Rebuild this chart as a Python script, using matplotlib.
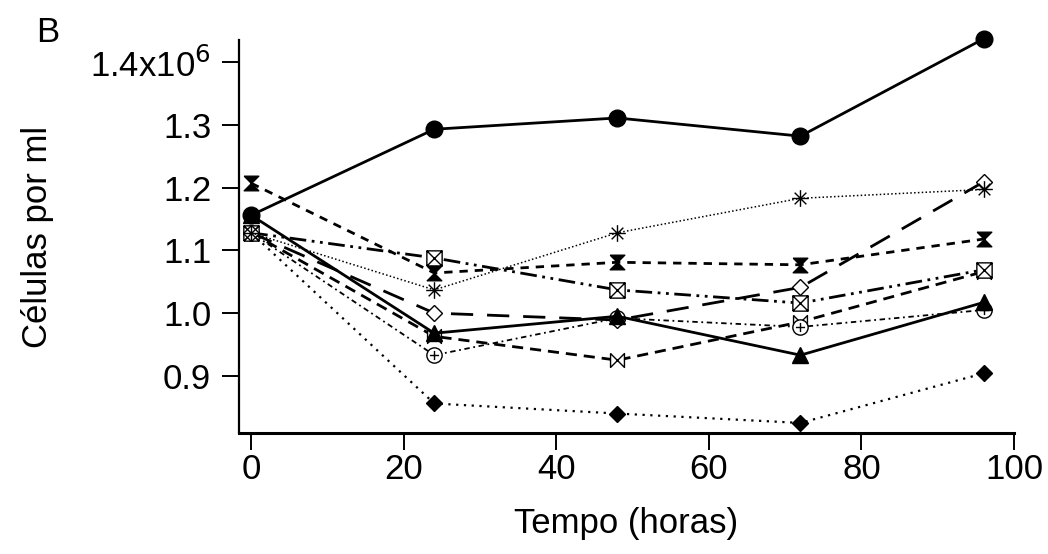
import numpy as np
import matplotlib
matplotlib.use('Agg')
import matplotlib.pyplot as plt
from matplotlib.path import Path

plt.rcParams['font.family'] = ['Liberation Sans', 'DejaVu Sans']

# tempo (horas)
horas = [0, 24, 48, 72, 96]

# células por ml (x10^6)
circulo_cheio = [1.156, 1.293, 1.311, 1.282, 1.437]
triangulo = [1.156, 0.968, 0.995, 0.933, 1.017]
ampulheta = [1.207, 1.064, 1.081, 1.077, 1.118]
asterisco = [1.128, 1.037, 1.128, 1.183, 1.197]
losango_aberto = [1.128, 1.000, 0.989, 1.041, 1.209]
caixa_x = [1.128, 1.088, 1.037, 1.016, 1.069]
circulo_mais = [1.128, 0.933, 0.992, 0.978, 1.005]
gravata = [1.128, 0.963, 0.925, 0.986, 1.066]
losango_cheio = [1.128, 0.856, 0.840, 0.825, 0.904]

yticks = [0.9, 1.0, 1.1, 1.2, 1.3, 1.4]
ytick_labels = ['0.9', '1.0', '1.1', '1.2', '1.3', '1.4x10$^6$']
xticks = [0, 20, 40, 60, 80, 100]

# marcadores especiais
M, L = Path.MOVETO, Path.LINETO
hourglass = Path([(-1, 1), (1, 1), (-1, -1), (1, -1), (-1, 1)], [M, L, L, L, L])
bowtie = Path([(-1, 1), (-1, -1), (1, 1), (1, -1), (-1, 1)], [M, L, L, L, L])
boxx = Path([(-1, -1), (1, -1), (1, 1), (-1, 1), (-1, -1), (-1, -1), (1, 1), (-1, 1), (1, -1)],
            [M, L, L, L, L, M, L, M, L])
star = Path([(-1, 0), (1, 0), (0, -1), (0, 1), (-0.7, -0.7), (0.7, 0.7), (-0.7, 0.7), (0.7, -0.7)],
            [M, L, M, L, M, L, M, L])
circ = Path.unit_circle()
cplus = Path.make_compound_path(circ, Path([(-0.6, 0), (0.6, 0), (0, -0.6), (0, 0.6)], [M, L, M, L]))

fig = plt.figure(figsize=(10.48, 5.54), dpi=100)
ax = fig.add_axes([0.228, 0.218, 0.7396, 0.710])

k = dict(color='black', clip_on=False)
ax.plot(horas, losango_cheio, linestyle=(0, (1, 2.5)), lw=1.6, marker='D', ms=8.5, **k)
ax.plot(horas, gravata, linestyle=(0, (4, 2.5)), lw=2.0, marker=bowtie, ms=10, mfc='white', mew=1, **k)
ax.plot(horas, circulo_mais, linestyle=(0, (1, 2, 3, 2)), lw=1.3, marker=cplus, ms=11, mfc='white', mew=1, **k)
ax.plot(horas, caixa_x, linestyle=(0, (6, 2, 1, 2, 1, 2)), lw=2.0, marker=boxx, ms=11, mfc='white', mew=1, **k)
ax.plot(horas, losango_aberto, linestyle=(0, (8, 5)), lw=2.0, marker='D', ms=8.5, mfc='white', mew=1, **k)
ax.plot(horas, asterisco, linestyle=(0, (1, 1.5)), lw=1.1, marker=star, ms=12, mfc='none', mew=1, **k)
ax.plot(horas, ampulheta, linestyle=(0, (3, 2.5)), lw=2.0, marker=hourglass, ms=10.5, **k)
ax.plot(horas, triangulo, linestyle='-', lw=2.0, marker='^', ms=11, **k)
ax.plot(horas, circulo_cheio, linestyle='-', lw=2.0, marker='o', ms=12, **k)

ax.set_xlim(-1.6, 100)
ax.set_ylim(0.8086, 1.4354)
ax.set_xticks(xticks)
ax.set_yticks(yticks)
ax.set_yticklabels(ytick_labels)
ax.spines['top'].set_visible(False)
ax.spines['right'].set_visible(False)
ax.spines['left'].set_linewidth(1.6)
ax.spines['bottom'].set_linewidth(2.2)
ax.tick_params(axis='both', direction='out', length=12, width=1.4, labelsize=25)
ax.tick_params(axis='y', pad=8)
ax.tick_params(axis='x', pad=2)

ax.set_xlabel('Tempo (horas)', fontsize=25, labelpad=15)
ax.set_ylabel('Células por ml', fontsize=25, labelpad=26)
fig.text(0.034, 0.925, 'B', fontsize=25)

fig.savefig('out.png', dpi=100)
